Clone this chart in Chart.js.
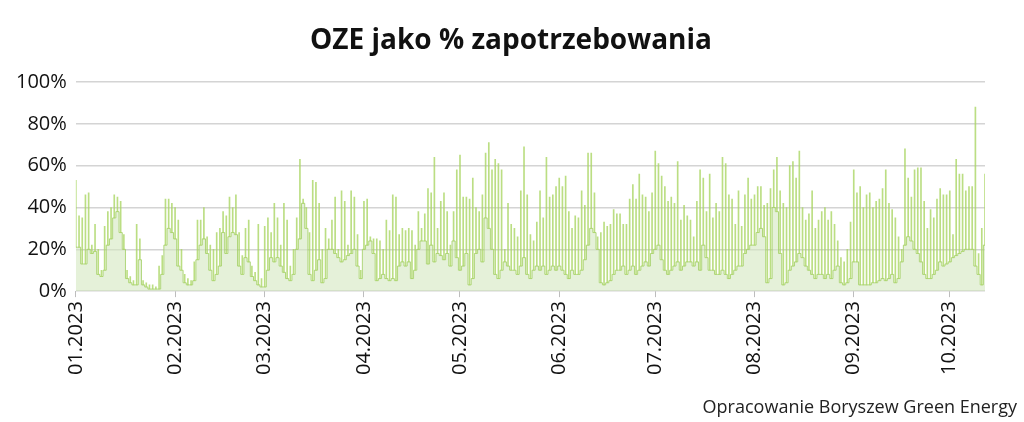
<!DOCTYPE html>
<html>
<head>
<meta charset="utf-8">
<script src="https://cdn.jsdelivr.net/npm/chart.js@4.4.1/dist/chart.umd.min.js"></script>
<style>
html,body{margin:0;padding:0;background:#fff;}
#wrap{width:1024px;height:422px;position:relative;}
#title{position:absolute;left:0;top:21px;width:1022px;text-align:center;font-family:'Open Sans',sans-serif;font-weight:bold;font-size:28px;line-height:34px;color:#111;white-space:nowrap;}
#footer{position:absolute;right:7px;top:394px;font-family:'Open Sans',sans-serif;font-size:18px;color:#222;white-space:nowrap;line-height:24px;}
</style>
</head>
<body>
<div id="wrap"><canvas id="c" width="1024" height="422"></canvas>
<div id="title">OZE jako % zapotrzebowania</div>
<div id="footer">Opracowanie Boryszew Green Energy</div></div>
<script>
// Month tick labels and the day index (from 1 Jan 2023) where each month starts
const monthLabels = ['01.2023','02.2023','03.2023','04.2023','05.2023','06.2023','07.2023','08.2023','09.2023','10.2023'];
const monthStartDay = [0,31,59,90,120,151,181,212,243,273];
const yTicks = [0,20,40,60,80,100];

// Daily minimum share of RES in demand (%)
const dailyLow = [
  // Jan
  21,21,13,13,20,18,19,8,7,10,22,25,35,38,28,20,6,4,3,3,15,3,2,1,1,1,1,8,22,30,28,
  // Feb
  25,12,10,4,3,3,5,15,22,25,18,10,5,8,12,28,18,26,28,27,12,8,16,14,7,5,3,2,
  // Mar
  2,10,16,14,16,12,9,6,5,8,20,25,42,30,8,5,10,15,4,6,20,20,18,16,14,15,17,18,20,12,6,
  // Apr
  20,22,24,18,5,6,8,6,5,6,5,12,14,12,14,6,10,20,24,24,13,22,14,18,17,15,18,12,24,16,
  // May
  10,12,18,3,6,18,20,14,35,30,20,8,6,10,14,12,10,10,8,12,16,8,6,10,12,10,12,8,10,12,10,
  // Jun
  12,10,8,6,10,8,8,10,15,22,30,28,20,4,3,4,5,8,10,10,12,8,10,12,8,10,12,14,12,18,
  // Jul
  20,22,15,10,8,10,12,14,10,12,14,14,12,14,10,22,16,10,10,8,8,10,8,6,8,10,12,12,18,20,22,
  // Aug
  22,28,30,26,4,6,40,38,18,3,4,10,12,14,18,16,12,10,8,6,8,8,6,8,6,10,12,4,3,4,6,
  // Sep
  14,14,3,3,3,3,4,4,5,6,5,6,8,4,6,14,22,26,24,20,18,14,8,6,6,8,10,14,12,13,
  // Oct
  14,16,17,18,19,20,20,20,12,8,3,22
];

// Daily maximum share of RES in demand (%)
const dailyHigh = [
  // Jan
  53,36,35,46,47,22,32,20,10,31,38,40,46,45,43,27,10,7,5,32,25,5,4,3,3,2,12,17,44,44,42,
  // Feb
  40,34,20,8,6,5,14,34,34,40,26,22,20,28,30,38,36,45,40,46,28,17,30,34,12,9,32,6,
  // Mar
  31,35,28,42,35,22,42,34,12,20,35,63,44,40,28,53,52,42,20,30,25,34,45,20,48,43,22,48,45,27,10,
  // Apr
  43,44,26,25,25,24,20,34,29,46,45,27,30,29,30,29,22,38,30,37,49,47,64,30,43,47,38,22,38,58,
  // May
  65,45,45,44,54,40,38,46,66,71,58,63,61,58,20,42,32,30,26,48,69,46,27,24,33,48,35,64,45,46,50,
  // Jun
  54,50,55,38,30,36,35,48,41,66,66,47,26,28,33,31,32,39,37,37,32,32,44,51,44,56,46,45,38,47,
  // Jul
  67,61,55,50,43,45,42,62,34,41,36,34,26,43,58,54,38,56,35,42,38,64,61,46,44,32,48,31,46,54,44,
  // Aug
  46,50,50,41,42,49,58,64,48,42,40,60,62,54,67,40,34,37,48,30,34,38,40,34,38,32,24,16,14,20,33,
  // Sep
  58,47,50,40,46,47,40,43,44,49,58,42,39,35,26,20,68,54,45,58,59,59,43,30,39,35,44,49,46,46,
  // Oct
  48,27,63,56,56,48,50,50,88,18,30,56
];

const lastDay = dailyLow.length - 1;
const FONT = 'Open Sans';

new Chart(document.getElementById('c'), {
  type: 'bar',
  data: {
    datasets: [
      {
        type: 'line',
        data: dailyLow.map((v, i) => ({x: i, y: v})),
        borderColor: 'rgba(165,208,105,0.85)',
        borderWidth: 1,
        backgroundColor: 'rgba(212,232,192,0.6)',
        fill: 'origin',
        stepped: 'middle',
        pointRadius: 0,
        order: 2
      },
      {
        type: 'bar',
        data: dailyLow.map((v, i) => ({x: i, y: [v, dailyHigh[i]]})),
        backgroundColor: 'rgba(170,214,100,0.8)',
        borderWidth: 0,
        barThickness: 1,
        order: 1
      }
    ]
  },
  options: {
    responsive: false,
    animation: false,
    layout: {padding: {left: 7, right: 39, top: 82, bottom: 43}},
    plugins: {
      legend: {display: false},
      tooltip: {enabled: false},
      title: {display: false}
    },
    scales: {
      x: {
        type: 'linear',
        offset: false,
        min: 0,
        max: lastDay,
        afterBuildTicks: s => { s.ticks = monthStartDay.map(v => ({value: v})); },
        ticks: {
          autoSkip: false,
          maxRotation: 90,
          minRotation: 90,
          color: '#111',
          font: {family: FONT, size: 20},
          padding: 4,
          callback: (v, i) => monthLabels[i]
        },
        grid: {offset: false, drawOnChartArea: false, tickLength: 6, color: '#bdbdbd', lineWidth: 1},
        border: {display: false}
      },
      y: {
        min: 0,
        max: 100,
        afterBuildTicks: s => { s.ticks = yTicks.map(v => ({value: v})); },
        ticks: {
          color: '#111',
          font: {family: FONT, size: 20},
          padding: 9,
          callback: v => v + '%'
        },
        grid: {color: '#d4d4d4', lineWidth: 1.5, drawTicks: false},
        border: {display: false}
      }
    }
  }
});
</script>
</body>
</html>
